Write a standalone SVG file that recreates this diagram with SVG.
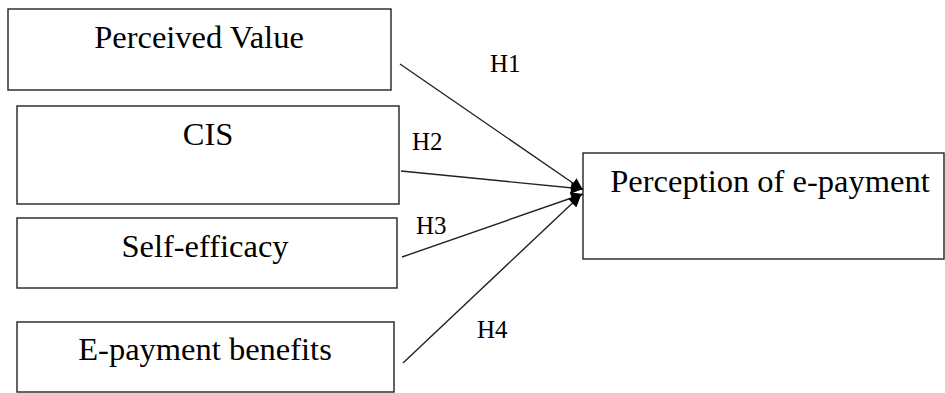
<svg xmlns="http://www.w3.org/2000/svg" width="945" height="393" viewBox="0 0 945 393">
<defs>
<style>
.box{fill:#fff;stroke:#222;stroke-width:1.4}
.t{font-family:"Liberation Serif","Times New Roman",serif;font-size:32.5px;fill:#000;text-anchor:middle}
.h{font-family:"Liberation Serif","Times New Roman",serif;font-size:25px;fill:#000}
.c{stroke:#222;stroke-width:1.4;fill:none;marker-end:url(#ah)}
</style>
<marker id="ah" viewBox="0 0 10 10" refX="10" refY="5" markerWidth="15" markerHeight="12" markerUnits="userSpaceOnUse" orient="auto">
<path d="M0,0 L10,5 L0,10 z" fill="#000"/>
</marker>
</defs>
<rect width="945" height="393" fill="#fff"/>
<g id="n-perceived-value"><rect class="box" x="8" y="9" width="383" height="81"/><text class="t" x="199" y="48">Perceived Value</text></g>
<g id="n-cis"><rect class="box" x="17" y="106" width="382" height="98"/><text class="t" x="208" y="145">CIS</text></g>
<g id="n-self-efficacy"><rect class="box" x="17" y="218" width="380" height="70"/><text class="t" x="205" y="257">Self-efficacy</text></g>
<g id="n-epayment-benefits"><rect class="box" x="17" y="322" width="377" height="70"/><text class="t" x="205" y="360">E-payment benefits</text></g>
<g id="n-perception"><rect class="box" x="583" y="153" width="361" height="106"/><text class="t" x="770" y="192">Perception of e-payment</text></g>
<g id="connectors">
<line class="c" x1="400" y1="64" x2="583" y2="190"/>
<line class="c" x1="401" y1="171" x2="583" y2="189"/>
<line class="c" x1="402" y1="257" x2="583" y2="194"/>
<line class="c" x1="403" y1="363" x2="581" y2="195"/>
</g>
<g id="labels">
<text class="h" x="490" y="72">H1</text>
<text class="h" x="412" y="150">H2</text>
<text class="h" x="416" y="234">H3</text>
<text class="h" x="477" y="338">H4</text>
</g>
</svg>
